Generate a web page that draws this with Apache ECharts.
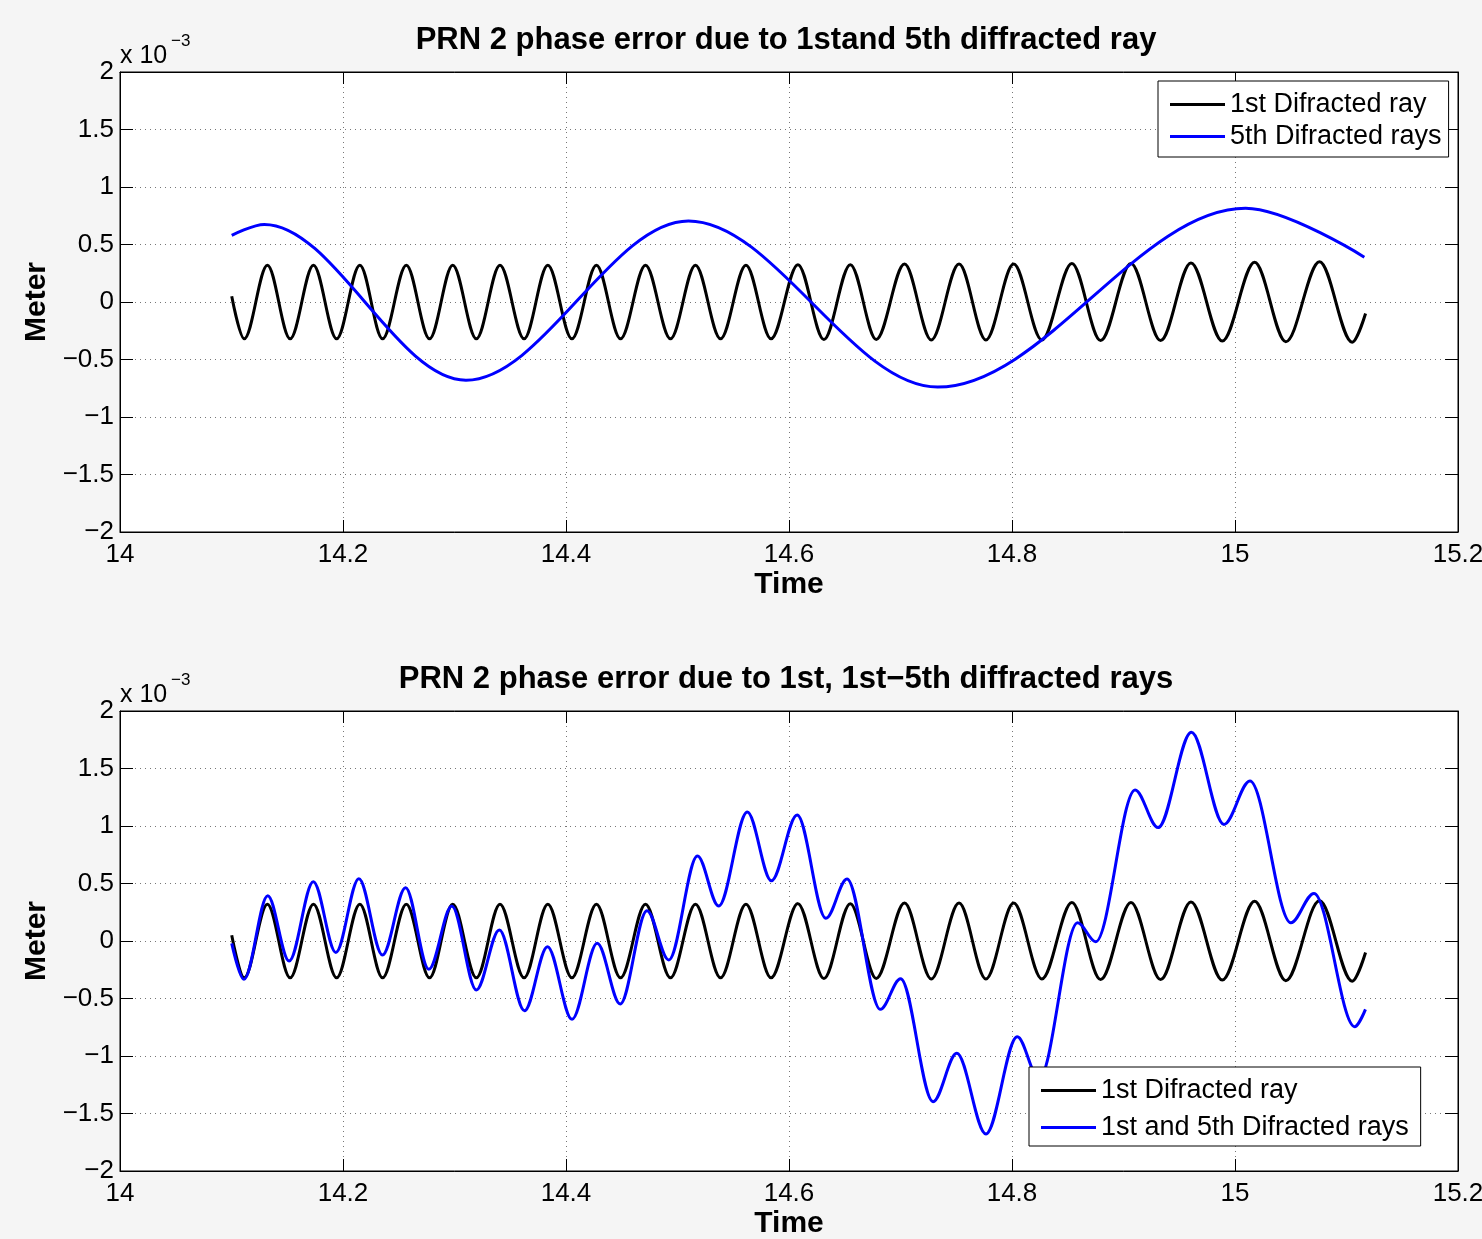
<!DOCTYPE html>
<html>
<head>
<meta charset="utf-8">
<script src="https://cdn.jsdelivr.net/npm/echarts@6/dist/echarts.min.js"></script>
<style>
html,body{margin:0;padding:0;background:#f5f5f5;}
#chart{width:1482px;height:1239px;}
</style>
</head>
<body>
<div id="chart"></div>
<script>
// Values in units of 1e-3 m (axis shows "x 10^-3")
const xTicksMin = 14, xTicksMax = 15.2, xTickStep = 0.2;
const yTicksMin = -2, yTicksMax = 2, yTickStep = 0.5;

// 1st diffracted ray (same in both panels): extrema
const tFirst = [14.1002, 14.1114, 14.1322, 14.1526, 14.1735, 14.1943, 14.2151, 14.2355, 14.2568, 14.2776, 14.2984, 14.3196, 14.3408, 14.3624, 14.3837, 14.4053, 14.4273, 14.4489, 14.4713, 14.4937, 14.5161, 14.5386, 14.5614, 14.5839, 14.6080, 14.6313, 14.6550, 14.6783, 14.7036, 14.7276, 14.7525, 14.7766, 14.8015, 14.8268, 14.8537, 14.8795, 14.9067, 14.9333, 14.9605, 14.9886, 15.0176, 15.0456, 15.0758, 15.1051, 15.1171];
const vFirst = [0.05, -0.32, 0.32, -0.32, 0.32, -0.32, 0.32, -0.32, 0.32, -0.32, 0.32, -0.32, 0.32, -0.32, 0.32, -0.32, 0.32, -0.32, 0.32, -0.32, 0.32, -0.32, 0.32, -0.32, 0.325, -0.325, 0.325, -0.325, 0.33, -0.33, 0.33, -0.33, 0.33, -0.33, 0.335, -0.335, 0.335, -0.335, 0.34, -0.34, 0.345, -0.345, 0.35, -0.35, -0.10];

// 5th diffracted rays (top panel)
const tFifth = [14.1002, 14.1294, 14.3103, 14.5098, 14.7333, 15.0095, 15.1160];
const vFifth = [0.58, 0.675, -0.68, 0.705, -0.74, 0.815, 0.39];

// 1st and 5th diffracted rays (bottom panel)
const tBoth = [14.1002, 14.1112, 14.1325, 14.1517, 14.1734, 14.1936, 14.2142, 14.2354, 14.2561, 14.2770, 14.2976, 14.3196, 14.3402, 14.3628, 14.3834, 14.4054, 14.4280, 14.4486, 14.4726, 14.4922, 14.5179, 14.5369, 14.5626, 14.5842, 14.6073, 14.6331, 14.6520, 14.6819, 14.7001, 14.7292, 14.7505, 14.7766, 14.8047, 14.8242, 14.8589, 14.8751, 14.9104, 14.9310, 14.9609, 14.9901, 15.0134, 15.0501, 15.0708, 15.1074, 15.1170];
const vBoth = [-0.02, -0.333, 0.394, -0.174, 0.516, -0.099, 0.542, -0.122, 0.464, -0.246, 0.304, -0.426, 0.096, -0.606, -0.049, -0.681, -0.02, -0.548, 0.264, -0.165, 0.739, 0.304, 1.122, 0.524, 1.096, 0.197, 0.539, -0.594, -0.328, -1.397, -0.977, -1.678, -0.832, -1.2, 0.159, -0.006, 1.313, 0.986, 1.815, 1.014, 1.391, 0.159, 0.414, -0.745, -0.594];

const titles = ['PRN 2 phase error due to 1stand 5th diffracted ray', 'PRN 2 phase error due to 1st, 1st\u22125th diffracted rays'];
const legendNames = [['1st Difracted ray', '5th Difracted rays'], ['1st Difracted ray', '1st and 5th Difracted rays']];

const zip = (a, b) => a.map((t, i) => [t, b[i]]);
const FONT = 'Liberation Sans';

const chart = echarts.init(document.getElementById('chart'), null, {renderer: 'canvas'});

const gridTops = [72, 711];
const grids = gridTops.map(t => ({left: 120, top: t, width: 1338, height: 460, show: true, backgroundColor: '#fff', borderColor: '#000', borderWidth: 1, containLabel: false, outerBoundsMode: 'none'}));

function xAxes(gi) {
  const common = {type: 'value', gridIndex: gi, min: xTicksMin, max: xTicksMax, interval: xTickStep};
  return [
    Object.assign({}, common, {
      position: 'bottom',
      axisLine: {show: true, onZero: false, lineStyle: {color: '#000', width: 1}},
      axisTick: {show: true, inside: true, length: 12, lineStyle: {color: '#000', width: 1}},
      axisLabel: {color: '#000', fontSize: 26, fontFamily: FONT, margin: 10, hideOverlap: false, formatter: v => String(+v.toFixed(1))},
      splitLine: {show: true, lineStyle: {color: '#777', width: 1, type: [1, 4]}},
      name: 'Time', nameLocation: 'middle', nameGap: 38,
      nameTextStyle: {color: '#000', fontSize: 30, fontWeight: 'bold', fontFamily: FONT}
    }),
    Object.assign({}, common, {
      position: 'top',
      axisLine: {show: true, onZero: false, lineStyle: {color: '#000', width: 1}},
      axisTick: {show: true, inside: true, length: 12, lineStyle: {color: '#000', width: 1}},
      axisLabel: {show: false},
      splitLine: {show: false}
    })
  ];
}
function yAxes(gi) {
  const common = {type: 'value', gridIndex: gi, min: yTicksMin, max: yTicksMax, interval: yTickStep};
  return [
    Object.assign({}, common, {
      position: 'left',
      axisLine: {show: true, onZero: false, lineStyle: {color: '#000', width: 1}},
      axisTick: {show: true, inside: true, length: 13, lineStyle: {color: '#000', width: 1}},
      axisLabel: {color: '#000', fontSize: 26, fontFamily: FONT, margin: 6,
        formatter: v => (v < 0 ? '\u2212' + String(Math.abs(v)) : String(v))},
      splitLine: {show: true, lineStyle: {color: '#777', width: 1, type: [1, 4]}},
      name: 'Meter', nameLocation: 'middle', nameGap: 68, nameRotate: 90,
      nameTextStyle: {color: '#000', fontSize: 30, fontWeight: 'bold', fontFamily: FONT}
    }),
    Object.assign({}, common, {
      position: 'right',
      axisLine: {show: true, onZero: false, lineStyle: {color: '#000', width: 1}},
      axisTick: {show: true, inside: true, length: 13, lineStyle: {color: '#000', width: 1}},
      axisLabel: {show: false},
      splitLine: {show: false}
    })
  ];
}

function lineSeries(name, data, color, gi) {
  return {
    type: 'line', name: name, xAxisIndex: gi * 2, yAxisIndex: gi * 2,
    data: data, smooth: 0.34, smoothMonotone: 'x',
    symbol: 'none', showSymbol: false,
    lineStyle: {color: color, width: 3}, itemStyle: {color: color},
    emphasis: {disabled: true}, clip: true
  };
}

const legendPos = [
  {left: 1158, top: 81, padding: [10, 7, 7, 12], itemGap: 5},
  {left: 1029, top: 1067, padding: [10, 12, 5, 12], itemGap: 10}
];

const option = {
  backgroundColor: '#f5f5f5',
  animation: false,
  title: titles.map((t, i) => ({
    text: t, left: 786, textAlign: 'center', top: [25, 664][i], padding: 0,
    textStyle: {color: '#000', fontSize: 31, fontWeight: 'bold', fontFamily: FONT}
  })),
  grid: grids,
  xAxis: [...xAxes(0), ...xAxes(1)],
  yAxis: [...yAxes(0), ...yAxes(1)],
  legend: legendNames.map((names, i) => Object.assign({
    data: names, orient: 'vertical', icon: 'rect', itemWidth: 55, itemHeight: 3,
    backgroundColor: '#fff', borderColor: '#000', borderWidth: 1, borderRadius: 0,
    selectedMode: false,
    textStyle: {color: '#000', fontSize: 27, fontFamily: FONT, lineHeight: 26}
  }, legendPos[i])),
  graphic: [0, 1].map(i => ({
    type: 'group', children: [
      {type: 'text', x: 120, y: 56 + 639 * i, style: {text: 'x 10', font: '25px "Liberation Sans"', fill: '#000', verticalAlign: 'middle'}},
      {type: 'text', x: 171, y: 41 + 639 * i, style: {text: '\u22123', font: '17px "Liberation Sans"', fill: '#000', verticalAlign: 'middle'}}
    ]
  })),
  series: [
    lineSeries(legendNames[0][0], zip(tFirst, vFirst), '#000', 0),
    lineSeries(legendNames[0][1], zip(tFifth, vFifth), '#0000ff', 0),
    lineSeries(legendNames[1][0], zip(tFirst, vFirst), '#000', 1),
    lineSeries(legendNames[1][1], zip(tBoth, vBoth), '#0000ff', 1)
  ]
};
chart.setOption(option);
</script>
</body>
</html>
